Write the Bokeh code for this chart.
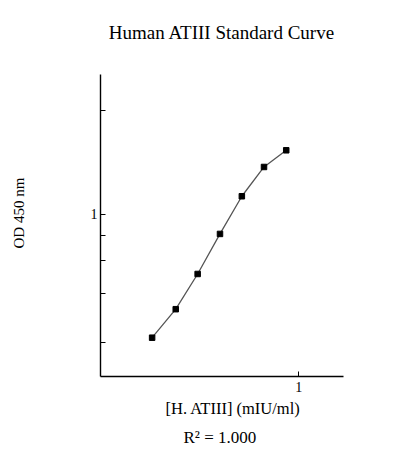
from bokeh.models import FixedTicker, Title, BasicTickFormatter
from bokeh.plotting import figure
from bokeh.embed import file_html
from bokeh.resources import INLINE

# standard curve data
conc = [0.259, 0.322, 0.394, 0.484, 0.592, 0.726, 0.891]   # [H. ATIII] (mIU/ml)
od = [0.388, 0.483, 0.633, 0.861, 1.150, 1.440, 1.637]     # OD 450 nm

x_ticks = [1]
y_ticks = [1]
y_minor = [0.375, 0.545, 0.704, 0.853, 2.22]

FONT = "Liberation Serif"

p = figure(width=405, height=452, x_axis_type="log", y_axis_type="log",
           x_range=(0.161, 1.51), y_range=(0.288, 2.93),
           output_backend="svg", toolbar_location=None,
           min_border_left=100, min_border_right=62,
           min_border_top=74, min_border_bottom=76)

p.outline_line_color = None
p.xgrid.visible = False
p.ygrid.visible = False

for ax in (p.xaxis[0], p.yaxis[0]):
    ax.axis_line_color = "black"
    ax.axis_line_width = 1.4
    ax.major_tick_in = 5
    ax.major_tick_out = 0
    ax.minor_tick_in = 5
    ax.minor_tick_out = 0
    ax.major_tick_line_color = "black"
    ax.minor_tick_line_color = "black"
    ax.major_label_text_font = FONT
    ax.major_label_text_font_size = "14px"
    ax.major_label_text_color = "black"
    ax.formatter = BasicTickFormatter()

p.xaxis[0].ticker = FixedTicker(ticks=x_ticks, minor_ticks=[])
p.yaxis[0].ticker = FixedTicker(ticks=y_ticks, minor_ticks=y_minor)
p.xaxis[0].major_label_standoff = 5
p.yaxis[0].major_label_standoff = 3

# title: a blank spacer keeps it up away from the frame
p.add_layout(Title(text=" ", text_font_size="10px", standoff=19), "above")
p.add_layout(Title(text="Human ATIII Standard Curve", align="center", text_font=FONT,
                   text_font_size="19px", text_font_style="normal",
                   text_color="black", standoff=0), "above")

# y caption, also pushed out by a spacer
p.add_layout(Title(text=" ", text_font_size="10px", standoff=48), "left")
p.add_layout(Title(text="OD 450 nm", align="left", offset=128, text_font=FONT,
                   text_font_size="15px", text_font_style="normal",
                   text_color="black", standoff=0), "left")

p.add_layout(Title(text="[H. ATIII] (mIU/ml)", align="left", offset=65, text_font=FONT,
                   text_font_size="16.5px", text_font_style="normal",
                   text_color="black", standoff=5), "below")
p.add_layout(Title(text="R² = 1.000", align="left", offset=83, text_font=FONT,
                   text_font_size="17px", text_font_style="normal",
                   text_color="black", standoff=11), "below")

p.line(conc, od, line_color="#555555", line_width=1.3)
p.scatter(conc, od, marker="square", size=5.5, fill_color="black", line_color="black")

open("out.html", "w").write(file_html(p, INLINE))
